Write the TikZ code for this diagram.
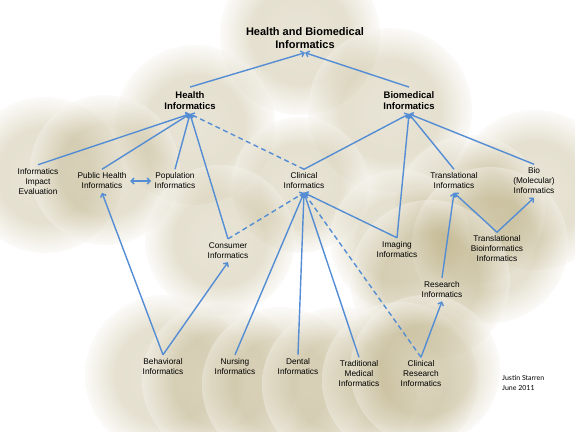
\documentclass[tikz,border=0pt]{standalone}
\usepackage{fontspec}
\setmainfont{Liberation Sans}
\newfontfamily\creditfont{Lato}
\usetikzlibrary{arrows.meta}
\definecolor{linkBlue}{RGB}{84, 141, 212}
\definecolor{bubbleTan}{RGB}{190, 178, 136}
\definecolor{bubbleRim}{RGB}{246, 244, 238}
% bubble shading, tan centre to pale rim
\pgfdeclareradialshading{bubbleshade}{\pgfpointorigin}{color(0bp)=(bubbleTan!85); color(15bp)=(bubbleTan); color(25bp)=(bubbleRim); color(50bp)=(bubbleRim)}
\tikzset{
    % Field Styles
    field/.style={
        align=center,
        inner sep=3.5pt,
        text=black,
        font=\fontsize{8.3}{10}\selectfont
    },
    fieldMain/.style={field, inner sep=4pt, font=\bfseries\fontsize{9.5}{11.5}\selectfont},
    fieldTop/.style={field, font=\bfseries\fontsize{11}{13}\selectfont},
    % Link Styles
    link/.style={-{Straight Barb[length=3pt,width=6pt]}, line width=1.4pt, draw=linkBlue},
    linkDash/.style={link, dash pattern=on 5pt off 3.5pt},
    linkBoth/.style={link, {Straight Barb[length=3pt,width=6pt]}-{Straight Barb[length=3pt,width=6pt]}},
    bubble/.style={shading=bubbleshade, fill opacity=0.4}
}

\begin{document}
\begin{tikzpicture}[x=1pt, y=-1pt]

    \useasboundingbox (0,0) rectangle (575,431);
    \fill[white] (0,0) rectangle (575,431);

    % --- Background Bubbles ---
    \foreach \cx/\cy/\r in {300/35/80, 195/125/80, 390/110/82, 535/190/80,
        470/210/75, 45/175/78, 105/170/75, 300/185/68, 220/240/75,
        400/240/70, 490/245/78, 430/280/80, 165/375/80, 220/380/78,
        280/385/78, 340/385/78, 400/380/78, 425/370/75}
        \shade[bubble] (\cx,\cy) circle (\r pt);

    % --- TOP LEVEL ---
    \node (top) [fieldTop] at (305,38.5) {Health and Biomedical\\Informatics};
    \node (health) [fieldMain] at (190,100.5) {Health\\Informatics};
    \node (biomed) [fieldMain] at (409,100.5) {Biomedical\\Informatics};

    % --- MIDDLE ROW ---
    \node (impact) [field] at (38,181.5) {Informatics\\Impact\\Evaluation};
    \node (public) [field] at (102,181) {Public Health\\Informatics};
    \node (pop) [field] at (175,181) {Population\\Informatics};
    \node (clinical) [field] at (304,181) {Clinical\\Informatics};
    \node (transl) [field] at (454,181) {Translational\\Informatics};
    \node (bio) [field] at (534,181) {Bio\\(Molecular)\\Informatics};

    % --- LOWER ROW ---
    \node (consumer) [field] at (228,250.5) {Consumer\\Informatics};
    \node (imaging) [field] at (397,249.5) {Imaging\\Informatics};
    \node (transbio) [field] at (497,249) {Translational\\Bioinformatics\\Informatics};
    \node (research) [field] at (442,289.5) {Research\\Informatics};

    % --- BOTTOM ROW ---
    \node (behav) [field] at (163,366.5) {Behavioral\\Informatics};
    \node (nursing) [field] at (235,366.5) {Nursing\\Informatics};
    \node (dental) [field] at (298,366.5) {Dental\\Informatics};
    \node (tradit) [field] at (359,374) {Traditional\\Medical\\Informatics};
    \node (clinres) [field] at (421,374) {Clinical\\Research\\Informatics};

    \node (credit) [field, align=left, anchor=west, inner sep=0pt, font=\creditfont\fontsize{7}{10}\selectfont] at (502,383) {Justin Starren\\June 2011};

    % --- Links ---
    \draw [link] (health.north) -- (top.south);
    \draw [link] (biomed.north) -- (top.south);

    \draw [link] (impact.north) -- (health.south);
    \draw [link] (public.north) -- (health.south);
    \draw [link] (pop.north) -- (health.south);
    \draw [link] (consumer.north) -- (health.south);
    \draw [linkDash] (clinical.north) -- (health.south);
    \draw [linkBoth] (public.east) -- (pop.west);

    \draw [link] (clinical.north) -- (biomed.south);
    \draw [link] (imaging.north) -- (biomed.south);
    \draw [link] (transl.north) -- (biomed.south);
    \draw [link] (bio.north) -- (biomed.south);

    \draw [link] (behav.north) -- (public.south);
    \draw [link] (behav.north) -- (consumer.south);
    \draw [linkDash] (consumer.north) -- (clinical.south);
    \draw [link] (imaging.north) -- (clinical.south);
    \draw [link] (nursing.north) -- (clinical.south);
    \draw [link] (dental.north) -- (clinical.south);
    \draw [link] (tradit.north) -- (clinical.south);
    \draw [linkDash] (clinres.north) -- (clinical.south);

    \draw [link] (transbio.north) -- (transl.south);
    \draw [link] (transbio.north) -- (bio.south);
    \draw [link] (research.north) -- (transl.south);
    \draw [link] (clinres.north) -- (research.south);

\end{tikzpicture}
\end{document}
